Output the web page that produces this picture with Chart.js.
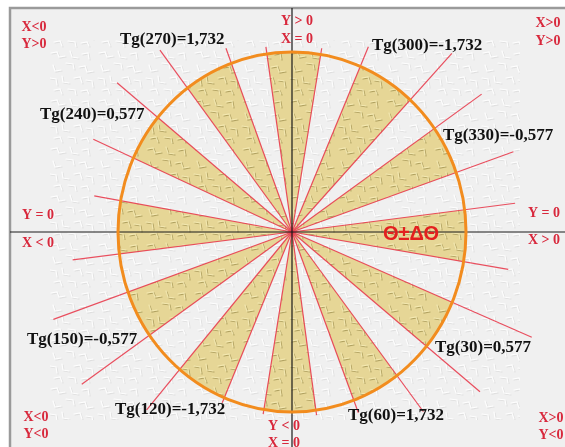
<!DOCTYPE html>
<html>
<head>
<meta charset="utf-8">
<script src="https://cdn.jsdelivr.net/npm/chart.js@4"></script>
<style>
  html, body { margin: 0; padding: 0; background: #ffffff; }
  #wrap { width: 565px; height: 447px; }
</style>
</head>
<body>
<div id="wrap"><canvas id="c" width="565" height="447"></canvas></div>
<script>
// ---------- DATA ----------
// ray directions (degrees, counter-clockwise from +X, on the unit circle)
const rayAngles  = [7.1, 19.3, 35.1, 47.2, 66.9, 80.5, 98.3, 110.4, 126.9, 140.5, 155.7, 170.0,
                    187.0, 199.5, 215.0, 229.8, 247.1, 260.7, 277.9, 290.8, 307.1, 320.6, 337.0, 350.5];
// ray lengths (circle radius = 1)
const rayLengths = [1.292, 1.348, 1.332, 1.352, 1.119, 1.035, 1.039, 1.089, 1.264, 1.303, 1.253, 1.154,
                    1.270, 1.455, 1.475, 1.294, 1.030, 1.025, 1.027, 1.074, 1.252, 1.398, 1.497, 1.260];
// shaded sectors: pairs of ray indices (theta - dtheta, theta + dtheta)
const sectorFrom = [23, 1, 3, 5, 7, 9, 11, 13, 15, 17, 19, 21];
const sectorTo   = [0, 2, 4, 6, 8, 10, 12, 14, 16, 18, 20, 22];
// tangent labels
const tgAngles = [270, 300, 240, 330, 150, 30, 120, 60];
const tgValues = ['1,732', '-1,732', '0,577', '-0,577', '-0,577', '0,577', '-1,732', '1,732'];
// sign labels (two lines each)
const signLabels = [
  ['X<0', 'Y>0'], ['Y > 0', 'X = 0'], ['X>0', 'Y>0'],
  ['Y = 0', 'X < 0'], ['Y = 0', 'X > 0'],
  ['X<0', 'Y<0'], ['Y < 0', 'X = 0'], ['X>0', 'Y<0']
];
const centerLabel = 'Θ±ΔΘ';

// ---------- LAYOUT (pixels) ----------
const X_MIN = -292 / 174, X_MAX = 273 / 174;
const Y_MIN = -215 / 180, Y_MAX = 232 / 180;
const FRAME = { x: 10, y: 8 };
const tgPos = [[120, 40], [372, 46], [40, 115], [443, 136], [27, 340], [435, 348], [115, 410], [348, 416]];
const signPos = [
  [34, 27, 44, 'center'], [281, 21, 39, 'left'], [548, 23, 41, 'center'],
  [38, 215, 243, 'center'], [544, 213, 240, 'center'],
  [36, 417, 434, 'center'], [268, 426, 443, 'left'], [551, 418, 435, 'center']
];

// ---------- helpers ----------
const rad = d => d * Math.PI / 180;

function makeTile(base, strokes, light) {
  const t = document.createElement('canvas');
  t.width = 48; t.height = 48;
  const g = t.getContext('2d');
  g.fillStyle = base; g.fillRect(0, 0, 48, 48);
  const segs = [
    [[3,5],[9,4],[11,9],[17,8]], [[22,3],[24,9],[30,10]], [[34,6],[40,5],[41,11]],
    [[5,17],[7,23],[13,22]], [[18,15],[25,16],[26,21]], [[31,19],[37,18],[39,24],[45,23]],
    [[2,30],[8,31],[9,37]], [[14,28],[15,34],[21,35]], [[26,30],[32,29],[34,35]],
    [[38,32],[44,33],[45,39]], [[6,42],[12,41],[14,46]], [[20,41],[27,42],[28,47]],
    [[33,43],[39,42],[41,46]]
  ];
  g.lineWidth = 1.2; g.lineCap = 'round';
  for (const [col, dx, dy] of [[strokes, 1, 1], [light, 0, 0]]) {
    g.strokeStyle = col;
    for (const s of segs) {
      g.beginPath();
      s.forEach((p, i) => i ? g.lineTo(p[0] + dx, p[1] + dy) : g.moveTo(p[0] + dx, p[1] + dy));
      g.stroke();
    }
  }
  return t;
}

const ctxMain = document.getElementById('c').getContext('2d');
const bgPattern = ctxMain.createPattern(makeTile('#f0f0f0', 'rgba(185,185,185,0.3)', 'rgba(255,255,255,0.9)'), 'repeat');
const ylPattern = ctxMain.createPattern(makeTile('#e6d696', 'rgba(135,120,55,0.55)', 'rgba(248,238,185,0.8)'), 'repeat');

// ---------- datasets ----------
const datasets = [];
rayAngles.forEach((a, i) => {
  datasets.push({
    data: [{ x: 0, y: 0 }, { x: rayLengths[i] * Math.cos(rad(a)), y: rayLengths[i] * Math.sin(rad(a)) }],
    showLine: true, borderColor: 'rgba(232,60,78,0.9)', borderWidth: 1.2,
    pointRadius: 0, fill: false, order: 2
  });
});
datasets.push({ data: [{ x: (FRAME.x - 292) / 174, y: 0 }, { x: X_MAX, y: 0 }],
  showLine: true, borderColor: '#1a1a1a', borderWidth: 1.2, pointRadius: 0, order: 1 });
datasets.push({ data: [{ x: 0, y: (232 - FRAME.y) / 180 }, { x: 0, y: Y_MIN }],
  showLine: true, borderColor: '#1a1a1a', borderWidth: 1.2, pointRadius: 0, order: 1 });

// ---------- plugin ----------
const artPlugin = {
  id: 'art',
  beforeDraw(chart) {
    const c = chart.ctx;
    c.save();
    c.fillStyle = '#ffffff';
    c.fillRect(0, 0, chart.width, chart.height);
    c.fillStyle = '#f0f0f0';
    c.fillRect(FRAME.x, FRAME.y, chart.width, chart.height);
    c.fillStyle = bgPattern;
    c.fillRect(50, 40, 470, 380);
    c.strokeStyle = '#9a9a9a';
    c.lineWidth = 2.5;
    c.beginPath();
    c.moveTo(FRAME.x, chart.height + 5);
    c.lineTo(FRAME.x, FRAME.y);
    c.lineTo(chart.width + 5, FRAME.y);
    c.stroke();
    c.restore();
  },
  beforeDatasetsDraw(chart) {
    const c = chart.ctx, xs = chart.scales.x, ys = chart.scales.y;
    const cx = xs.getPixelForValue(0), cy = ys.getPixelForValue(0);
    const rx = xs.getPixelForValue(1) - cx, ry = cy - ys.getPixelForValue(1);
    c.save();
    c.fillStyle = ylPattern;
    sectorFrom.forEach((f, k) => {
      let a0 = rayAngles[f], a1 = rayAngles[sectorTo[k]];
      if (a0 > a1) a0 -= 360;
      c.beginPath();
      c.moveTo(cx, cy);
      c.ellipse(cx, cy, rx, ry, 0, -rad(a1), -rad(a0), false);
      c.closePath();
      c.fill();
    });
    c.restore();
  },
  afterDatasetsDraw(chart) {
    const c = chart.ctx, xs = chart.scales.x, ys = chart.scales.y;
    const cx = xs.getPixelForValue(0), cy = ys.getPixelForValue(0);
    const rx = xs.getPixelForValue(1) - cx, ry = cy - ys.getPixelForValue(1);
    c.save();
    c.strokeStyle = '#f28c1e';
    c.lineWidth = 3;
    c.beginPath();
    c.ellipse(cx, cy, rx, ry, 0, 0, Math.PI * 2);
    c.stroke();

    // tangent labels
    c.fillStyle = '#111111';
    c.font = 'bold 17px "Liberation Serif", "Times New Roman", serif';
    c.textBaseline = 'middle';
    c.textAlign = 'left';
    tgAngles.forEach((a, i) => {
      c.fillText('Tg(' + a + ')=' + tgValues[i], tgPos[i][0], tgPos[i][1]);
    });

    // sign labels
    c.fillStyle = '#d8283c';
    c.font = 'bold 14px "Liberation Serif", "Times New Roman", serif';
    signLabels.forEach((pair, i) => {
      const p = signPos[i];
      c.textAlign = p[3];
      c.fillText(pair[0], p[0], p[1]);
      c.fillText(pair[1], p[0], p[2]);
    });

    // centre label
    c.fillStyle = '#e3201f';
    c.font = 'bold 20px "Liberation Sans", Arial, sans-serif';
    c.textAlign = 'center';
    c.fillText(centerLabel, 411, 234);
    c.restore();
  }
};

new Chart(document.getElementById('c'), {
  type: 'scatter',
  data: { datasets },
  options: {
    responsive: false,
    animation: false,
    devicePixelRatio: 1,
    layout: { padding: 0 },
    plugins: { legend: { display: false }, tooltip: { enabled: false } },
    scales: {
      x: { type: 'linear', min: X_MIN, max: X_MAX, display: false },
      y: { type: 'linear', min: Y_MIN, max: Y_MAX, display: false }
    }
  },
  plugins: [artPlugin]
});
</script>
</body>
</html>
